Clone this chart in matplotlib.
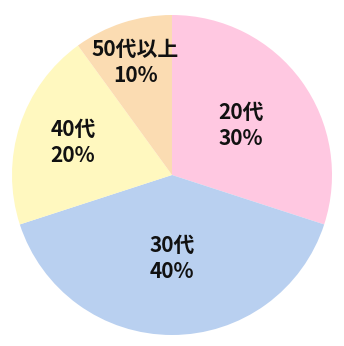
import numpy as np
import matplotlib.pyplot as plt

plt.rcParams['font.family'] = ['Noto Sans CJK JP', 'DejaVu Sans']

# Data
ages = ["20代", "30代", "40代", "50代以上"]
shares = [30, 40, 20, 10]
colors = ["#FFC8E1", "#B9D0F0", "#FFF8BF", "#FBDCB2"]
label_dist = [0.53, 0.52, 0.65, 0.74]

fig = plt.figure(figsize=(3.44, 3.46), dpi=100)
ax = fig.add_axes([12 / 344, 11 / 346, 320 / 344, 320 / 346])

wedges, _ = ax.pie(shares, colors=colors, startangle=90, counterclock=False,
                   radius=1.0, wedgeprops=dict(linewidth=0))

for w, name, val, d in zip(wedges, ages, shares, label_dist):
    mid = np.deg2rad((w.theta1 + w.theta2) / 2)
    ax.text(d * np.cos(mid), d * np.sin(mid), f"{name}\n{val}%",
            ha="center", va="center", fontsize=15, fontweight="bold",
            linespacing=1.3, color="#111111")

ax.set_xlim(-1, 1)
ax.set_ylim(-1, 1)
ax.set_aspect("equal")
ax.axis("off")

fig.savefig("out.png", dpi=100)
